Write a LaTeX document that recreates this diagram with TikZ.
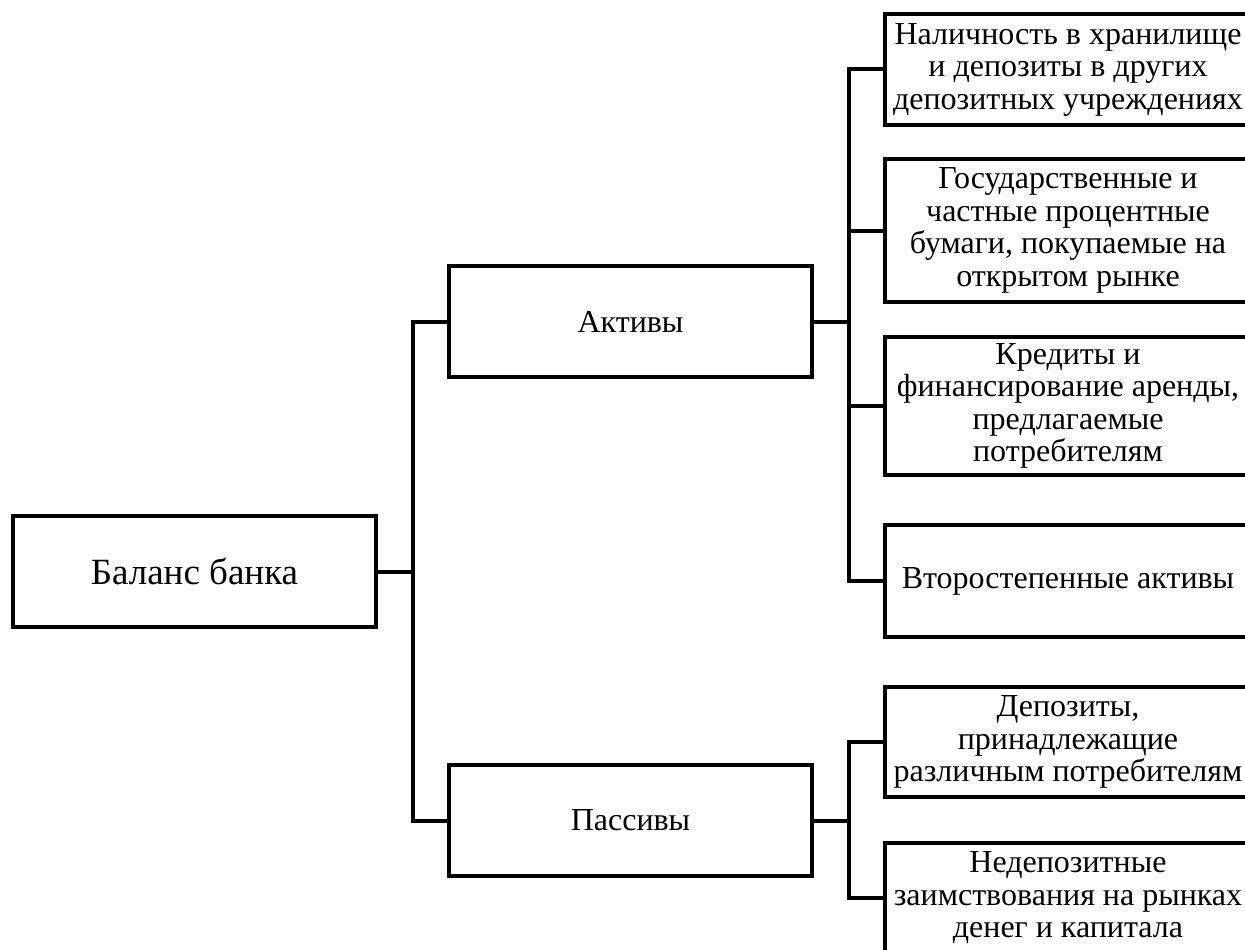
\documentclass[tikz,border=0pt]{standalone}
\usepackage{fontspec}
\setmainfont{Liberation Serif}
\begin{document}
\begin{tikzpicture}[x=1pt,y=-1pt,
  box/.style={draw, line width=4pt, rectangle, inner sep=0pt, align=center,
    font=\fontsize{32}{32.5}\selectfont},
  link/.style={line width=4pt}]
\useasboundingbox (0,0) rectangle (1245,950);
\clip (0,0) rectangle (1245,950);
% level 0
\node[box, minimum width=363pt, minimum height=111pt, font=\fontsize{37}{40}\selectfont] (bal) at (194.5,571.5) {Баланс банка};
% level 1
\node[box, minimum width=363pt, minimum height=111pt] (akt) at (630.5,321.5) {Активы};
\node[box, minimum width=363pt, minimum height=111pt] (pas) at (630.5,820.5) {Пассивы};
% assets
\node[box, minimum width=366pt, minimum height=111pt] (r1) at (1068,69.5) {Наличность в хранилище\\и депозиты в других\\депозитных учреждениях};
\node[box, minimum width=366pt, minimum height=143pt] (r2) at (1068,230.5) {Государственные и\\частные процентные\\бумаги, покупаемые на\\открытом рынке};
\node[box, minimum width=366pt, minimum height=138pt] (r3) at (1068,406) {Кредиты и\\финансирование аренды,\\предлагаемые\\потребителям};
\node[box, minimum width=366pt, minimum height=112pt] (r4) at (1068,581) {Второстепенные активы};
% liabilities
\node[box, minimum width=366pt, minimum height=110pt] (l1) at (1068,742) {Депозиты,\\принадлежащие\\различным потребителям};
\node[box, minimum width=366pt, minimum height=110pt] (l2) at (1068,898) {Недепозитные\\заимствования на рынках\\денег и капитала};
% connectors level 0 -> 1
\draw[link] (akt.west) -- ++(-34,0) |- (pas.west);
\draw[link] (bal.east) -- ++(35,0);
% assets
\draw[link] (r1.west) -- ++(-34,0) |- (r4.west);
\draw[link] (akt.east) -- ++(35,0);
\draw[link] (r2.west) -- ++(-34,0);
\draw[link] (r3.west) -- ++(-34,0);
% liabilities
\draw[link] (l1.west) -- ++(-34,0) |- (l2.west);
\draw[link] (pas.east) -- ++(35,0);
\end{tikzpicture}
\end{document}
